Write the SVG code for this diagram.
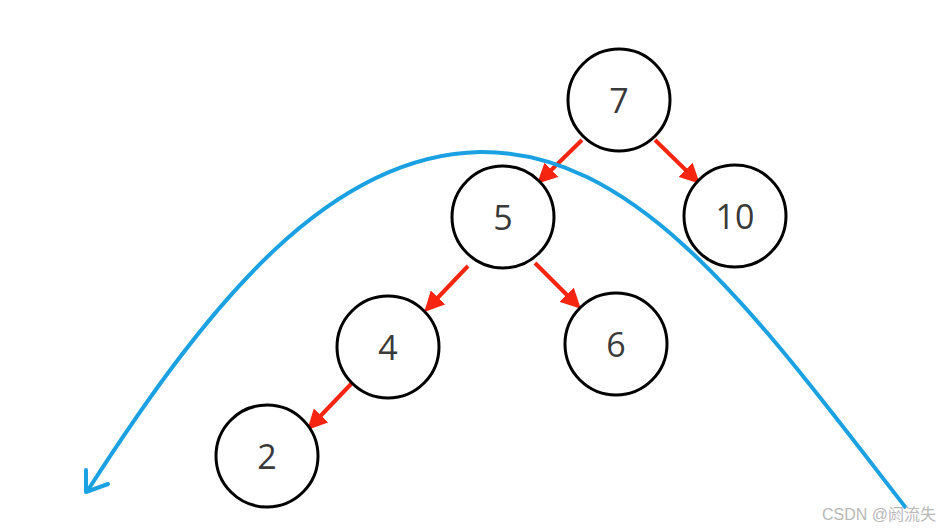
<svg xmlns="http://www.w3.org/2000/svg" width="944" height="530" viewBox="0 0 944 530">
<style>
.n circle{fill:#fff;stroke:#000;stroke-width:3}
.n text{font-family:"Open Sans","Noto Sans",sans-serif;font-size:34px;fill:#3a3a3a;text-anchor:middle;dominant-baseline:central}
.e{stroke:#f5250f;stroke-width:4;fill:none;marker-end:url(#ah)}
.wm{font-family:"Liberation Sans","Noto Sans CJK SC",sans-serif;font-size:16px;fill:#b8b8b8}
</style>
<defs>
<marker id="ah" markerWidth="5" markerHeight="5" refX="4" refY="2.5" orient="auto" markerUnits="strokeWidth">
<path d="M0,0 L5,2.5 L0,5 Z" fill="#f5250f"/>
</marker>
</defs>
<rect width="944" height="530" fill="#fff"/>
<g id="connectors">
<line class="e" x1="582" y1="140" x2="540" y2="181"/>
<line class="e" x1="655" y1="140" x2="697" y2="181"/>
<line class="e" x1="468" y1="266" x2="427" y2="309"/>
<line class="e" x1="535" y1="263" x2="578" y2="306"/>
<line class="e" x1="352" y1="383" x2="310" y2="427"/>
</g>
<g id="n7" class="n"><circle cx="619" cy="100" r="51"/><text x="619" y="100">7</text></g>
<g id="n5" class="n"><circle cx="503" cy="217" r="51"/><text x="503" y="217">5</text></g>
<g id="n10" class="n"><circle cx="735" cy="216" r="51"/><text x="735" y="216">10</text></g>
<g id="n4" class="n"><circle cx="388" cy="347" r="51"/><text x="388" y="347">4</text></g>
<g id="n6" class="n"><circle cx="616" cy="344" r="51"/><text x="616" y="344">6</text></g>
<g id="n2" class="n"><circle cx="267" cy="456" r="51"/><text x="267" y="456">2</text></g>
<g id="curve">
<path d="M906,508 C760,320 640,150 480,152 C330,155 210,300 88,490" fill="none" stroke="#1ba1e2" stroke-width="4"/>
<path d="M86,470 L86,492 L108,484" fill="none" stroke="#1ba1e2" stroke-width="4" stroke-linecap="round" stroke-linejoin="round"/>
</g>
<text class="wm" x="822" y="520">CSDN @阏流失</text>
</svg>
